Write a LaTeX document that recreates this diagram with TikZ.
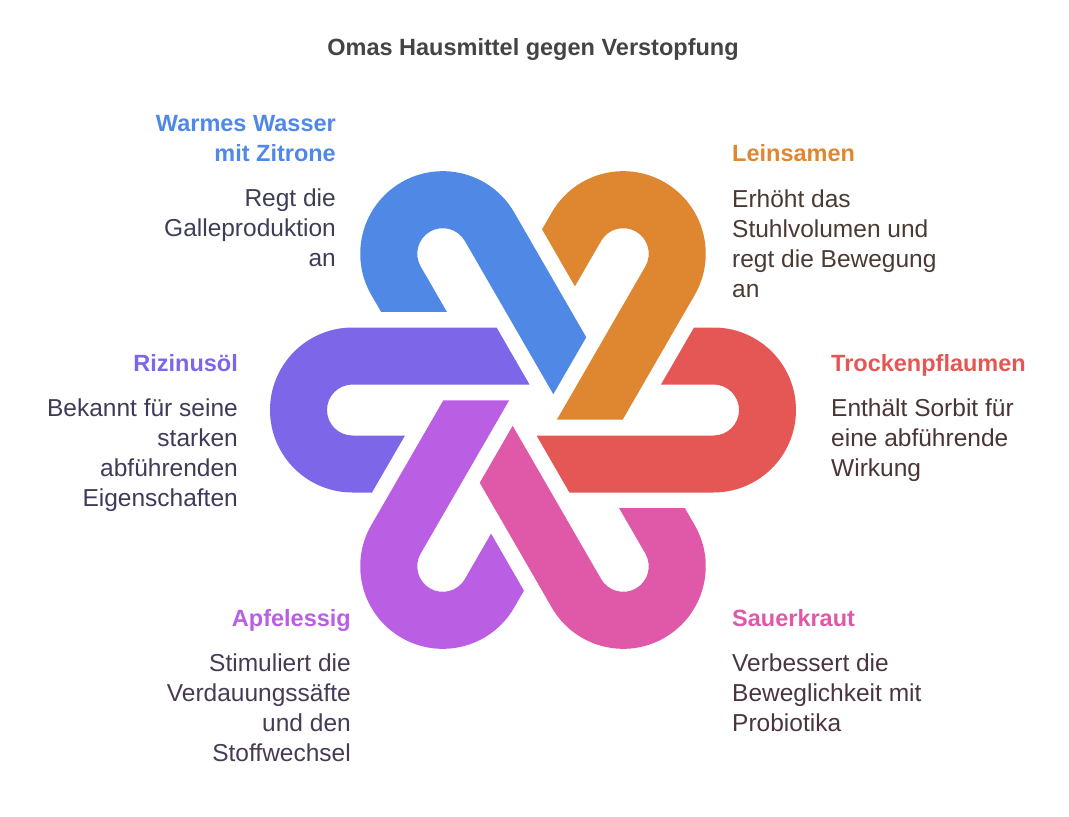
\documentclass[tikz,border=0pt]{standalone}
\usepackage{fontspec}
\setmainfont{Liberation Sans}
\definecolor{blueloop}{HTML}{4F88E5}
\definecolor{orangeloop}{HTML}{DF8631}
\definecolor{redloop}{HTML}{E55755}
\definecolor{pinkloop}{HTML}{DF59A8}
\definecolor{purpleloop}{HTML}{BA5EE3}
\definecolor{violetloop}{HTML}{7E66E9}
\definecolor{titlegray}{HTML}{444444}
\definecolor{bluetext}{HTML}{3C3F55}
\definecolor{orangetext}{HTML}{4A3A32}
\definecolor{redtext}{HTML}{4A3434}
\definecolor{pinktext}{HTML}{4A3442}
\definecolor{purpletext}{HTML}{483A55}
\definecolor{violettext}{HTML}{3F3A58}

\begin{document}
\begin{tikzpicture}[x=1pt,y=1pt,
  head/.style={font=\fontsize{23.5}{30}\selectfont\bfseries, inner sep=0pt},
  body/.style={font=\fontsize{24.5}{30}\selectfont, inner sep=0pt}]
\useasboundingbox (0,0) rectangle (1069,-817);
% hooks, one per remedy, loop pointing outwards
\foreach \ang/\col in {0/redloop,60/orangeloop,120/blueloop,180/violetloop,240/purpleloop,300/pinkloop}
  \fill[\col, shift={(533,-410)}, rotate=\ang] (36.4,-82.5) -- (180.5,-82.5)
    arc[start angle=-90, end angle=90, radius=82.5] -- (161,82.5) -- (128,25.5) -- (180.5,25.5)
    arc[start angle=90, end angle=-90, radius=25.5] -- (3.5,-25.5) -- cycle;
% title
\node[head, titlegray, anchor=base] (title) at (533,-55) {Omas Hausmittel gegen Verstopfung};
% left side (base = last line)
\node[head, blueloop, align=right, anchor=base east] (wasser) at (336,-161) {Warmes Wasser\\mit Zitrone};
\node[body, bluetext, align=right, anchor=base east] (wassertext) at (336,-266) {Regt die\\Galleproduktion\\an};
\node[head, violetloop, anchor=base east] (rizinus) at (238,-371) {Rizinusöl};
\node[body, violettext, align=right, anchor=base east] (rizinustext) at (238,-506) {Bekannt für seine\\starken\\abführenden\\Eigenschaften};
\node[head, purpleloop, anchor=base east] (essig) at (351,-626) {Apfelessig};
\node[body, purpletext, align=right, anchor=base east] (essigtext) at (351,-761) {Stimuliert die\\Verdauungssäfte\\und den\\Stoffwechsel};
% right side
\node[head, orangeloop, anchor=base west] (lein) at (732,-161) {Leinsamen};
\node[body, orangetext, align=left, anchor=base west] (leintext) at (732,-297) {Erhöht das\\Stuhlvolumen und\\regt die Bewegung\\an};
\node[head, redloop, anchor=base west] (pflaumen) at (831,-371) {Trockenpflaumen};
\node[body, redtext, align=left, anchor=base west] (pflaumentext) at (831,-476) {Enthält Sorbit für\\eine abführende\\Wirkung};
\node[head, pinkloop, anchor=base west] (kraut) at (732,-626) {Sauerkraut};
\node[body, pinktext, align=left, anchor=base west] (krauttext) at (732,-731) {Verbessert die\\Beweglichkeit mit\\Probiotika};
\end{tikzpicture}
\end{document}
